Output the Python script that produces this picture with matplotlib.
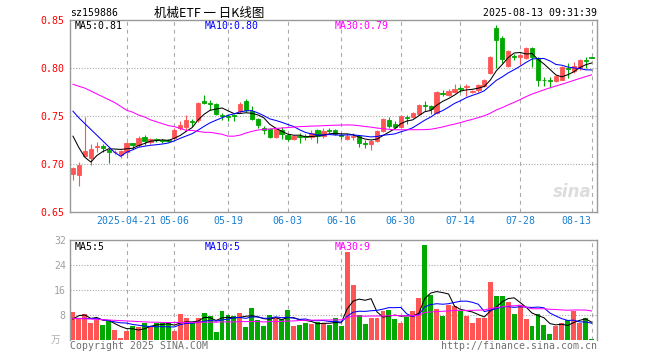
import numpy as np
import pandas as pd
import matplotlib
matplotlib.use("Agg")
import matplotlib.pyplot as plt

# daily candles 2025-04-08 .. 2025-08-13
opens = [0.690, 0.689, 0.708, 0.706, 0.718, 0.719, 0.715, 0.712, 0.709, 0.712,
         0.722, 0.720, 0.728, 0.723, 0.726, 0.725, 0.725, 0.727, 0.737, 0.739,
         0.745, 0.746, 0.766, 0.764, 0.763, 0.751, 0.750, 0.751, 0.755, 0.766,
         0.755, 0.747, 0.738, 0.736, 0.728, 0.735, 0.730, 0.726, 0.729, 0.729,
         0.728, 0.735, 0.729, 0.735, 0.735, 0.730, 0.726, 0.728, 0.729, 0.722,
         0.721, 0.724, 0.734, 0.746, 0.742, 0.739, 0.749, 0.749, 0.752, 0.761,
         0.760, 0.753, 0.774, 0.772, 0.775, 0.779, 0.780, 0.775, 0.777, 0.781,
         0.795, 0.842, 0.831, 0.802, 0.812, 0.811, 0.810, 0.821, 0.810, 0.788,
         0.787, 0.786, 0.788, 0.800, 0.797, 0.800, 0.808, 0.811]
highs = [0.697, 0.702, 0.749, 0.721, 0.723, 0.721, 0.717, 0.715, 0.715, 0.723,
         0.722, 0.729, 0.730, 0.727, 0.727, 0.726, 0.726, 0.737, 0.745, 0.751,
         0.747, 0.765, 0.772, 0.767, 0.764, 0.753, 0.752, 0.752, 0.765, 0.768,
         0.760, 0.748, 0.740, 0.737, 0.738, 0.739, 0.731, 0.730, 0.732, 0.731,
         0.735, 0.736, 0.737, 0.737, 0.736, 0.732, 0.731, 0.732, 0.730, 0.725,
         0.725, 0.735, 0.748, 0.749, 0.745, 0.751, 0.751, 0.754, 0.763, 0.766,
         0.761, 0.776, 0.777, 0.778, 0.783, 0.781, 0.783, 0.777, 0.783, 0.789,
         0.812, 0.845, 0.833, 0.819, 0.815, 0.815, 0.822, 0.822, 0.811, 0.791,
         0.791, 0.793, 0.802, 0.805, 0.806, 0.809, 0.811, 0.811]
lows = [0.683, 0.677, 0.708, 0.699, 0.713, 0.712, 0.701, 0.710, 0.706, 0.706,
        0.716, 0.718, 0.720, 0.721, 0.723, 0.722, 0.723, 0.726, 0.735, 0.735,
        0.740, 0.744, 0.762, 0.756, 0.751, 0.746, 0.745, 0.745, 0.753, 0.754,
        0.746, 0.737, 0.731, 0.727, 0.727, 0.726, 0.724, 0.725, 0.722, 0.725,
        0.726, 0.722, 0.727, 0.732, 0.730, 0.726, 0.725, 0.725, 0.718, 0.717,
        0.715, 0.723, 0.733, 0.737, 0.737, 0.737, 0.742, 0.748, 0.751, 0.755,
        0.752, 0.752, 0.771, 0.771, 0.774, 0.775, 0.771, 0.774, 0.775, 0.780,
        0.794, 0.800, 0.805, 0.801, 0.808, 0.803, 0.809, 0.801, 0.781, 0.781,
        0.780, 0.785, 0.787, 0.790, 0.795, 0.798, 0.800, 0.810]
closes = [0.696, 0.699, 0.714, 0.716, 0.719, 0.717, 0.713, 0.713, 0.714, 0.722,
          0.720, 0.727, 0.724, 0.726, 0.725, 0.724, 0.724, 0.735, 0.741, 0.746,
          0.744, 0.764, 0.764, 0.762, 0.752, 0.750, 0.749, 0.750, 0.762, 0.756,
          0.747, 0.741, 0.735, 0.728, 0.736, 0.731, 0.726, 0.729, 0.728, 0.728,
          0.732, 0.729, 0.734, 0.734, 0.731, 0.729, 0.729, 0.729, 0.722, 0.721,
          0.724, 0.734, 0.747, 0.740, 0.739, 0.750, 0.748, 0.753, 0.761, 0.760,
          0.757, 0.775, 0.773, 0.776, 0.778, 0.778, 0.781, 0.776, 0.782, 0.787,
          0.811, 0.829, 0.809, 0.818, 0.811, 0.814, 0.821, 0.811, 0.788, 0.787,
          0.786, 0.792, 0.801, 0.799, 0.802, 0.808, 0.807, 0.810]
# volume, 万手
vols = [9.1, 6.7, 8.3, 5.5, 6.4, 4.8, 6.4, 3.2, 0.8, 3.0,
        4.6, 4.3, 5.3, 4.6, 5.3, 5.3, 5.6, 2.9, 8.3, 6.9,
        5.3, 6.9, 8.8, 7.8, 2.5, 9.3, 8.0, 7.7, 8.8, 4.2,
        10.1, 6.4, 4.6, 8.0, 6.9, 6.7, 9.6, 4.6, 4.8, 5.6,
        5.1, 5.9, 5.3, 4.8, 6.9, 4.6, 28.3, 17.6, 8.0, 5.1,
        7.1, 7.1, 9.3, 9.6, 6.7, 5.5, 7.5, 9.3, 13.5, 30.4,
        14.4, 9.9, 7.7, 11.2, 10.9, 9.3, 7.8, 5.6, 7.1, 7.1,
        18.7, 14.1, 14.1, 12.3, 8.3, 11.2, 6.7, 4.6, 8.3, 4.8,
        1.9, 4.6, 5.6, 6.4, 9.4, 5.5, 6.9, 0.3]

ma5_head = [0.729, 0.717, 0.707, 0.702]
ma10_head = [0.755, 0.748, 0.742, 0.736, 0.730, 0.724, 0.718, 0.712, 0.708]
ma30_head = [0.783, 0.781, 0.779, 0.776, 0.773, 0.770, 0.767, 0.764, 0.760, 0.756,
             0.754, 0.751, 0.749, 0.746, 0.744, 0.742, 0.740, 0.739, 0.737, 0.735,
             0.735, 0.734, 0.733, 0.733, 0.732, 0.731, 0.729, 0.729, 0.730]
vma5_head = [6.7, 7.8, 8.0, 6.9]
vma10_head = [6.9, 6.9, 6.9, 6.9, 6.8, 6.5, 6.2, 5.8, 5.5]
vma30_head = [6.9, 6.85, 6.8, 6.7, 6.6, 6.5, 6.4, 6.3, 6.2, 6.1,
              6.0, 5.9, 5.8, 5.7, 5.7, 5.6, 5.6, 5.6, 5.6, 5.6,
              5.6, 5.7, 5.7, 5.7, 5.7, 5.8, 5.8, 5.8, 5.9]

tick_pos = [9, 17, 26, 36, 45, 55, 65, 75, 87]
tick_labels = ["2025-04-21", "05-06", "05-19", "06-03", "06-16",
               "06-30", "07-14", "07-28", "08-13"]
price_ticks = [0.85, 0.80, 0.75, 0.70, 0.65]
vol_ticks = [32, 24, 16, 8]

RED = "#ff5555"
GREEN = "#00a800"
FRAME = "#999999"
GRID = "#aaaaaa"
MONO = "DejaVu Sans Mono"
CJK = ["Noto Sans CJK SC", "DejaVu Sans"]
FS = 7.1

W, H = 660, 360


def ma(values, n, head):
    m = pd.Series(values).rolling(n).mean().to_numpy()
    m[:n - 1] = head
    return m


def pos(x, y):
    return x / W, 1 - y / H


o = np.array(opens)
c = np.array(closes)
x = np.arange(len(c))
cols = np.where(c >= o, RED, GREEN)

fig = plt.figure(figsize=(W / 100, H / 100), dpi=100)
ax = fig.add_axes([70 / W, 1 - 212 / H, 527 / W, 192 / H])
ax2 = fig.add_axes([70 / W, 1 - 340 / H, 527 / W, 100 / H])

for a in (ax, ax2):
    a.set_xlim(-0.5, 87.9)
    for s in a.spines.values():
        s.set_color(FRAME)
        s.set_linewidth(1)
    for t in tick_pos:
        a.axvline(t, color=GRID, lw=0.8, ls=(0, (3.5, 3.5)), zorder=0)
ax2.spines["bottom"].set_visible(False)

# price panel
ax.set_ylim(0.65, 0.85)
for yv in [0.80, 0.75, 0.70]:
    ax.axhline(yv, color=GRID, lw=0.8, ls=(0, (1, 1.5)), zorder=0)
ax.vlines(x, lows, highs, colors=cols, lw=0.8, zorder=2)
ax.bar(x, np.abs(c - o), bottom=np.minimum(o, c), width=0.72,
       color=cols, edgecolor=cols, lw=0.6, zorder=3)
ma5 = ma(closes, 5, ma5_head)
ma10 = ma(closes, 10, ma10_head)
ma30 = ma(closes, 30, ma30_head)
ax.plot(x, ma5, color="black", lw=0.75, zorder=4)
ax.plot(x, ma10, color="#0000ff", lw=0.75, zorder=4)
ax.plot(x, ma30, color="#ff00ff", lw=0.75, zorder=4)

ax.set_yticks(price_ticks)
ax.set_yticklabels([f"{v:.2f}" for v in price_ticks], family=MONO, fontsize=FS, color="#ff0000")
ax.tick_params(axis="y", length=0, pad=4)
ax.set_xticks(tick_pos)
ax.set_xticklabels(tick_labels, family=MONO, fontsize=FS, color="#1a7fd0")
ax.tick_params(axis="x", length=0, pad=3.2)
ax.get_xticklabels()[-1].set_ha("right")

# volume panel
ax2.set_ylim(0, 32)
for yv in [24, 16, 8]:
    ax2.axhline(yv, color=GRID, lw=0.8, ls=(0, (1, 1.5)), zorder=0)
ax2.bar(x, vols, width=0.82, color=cols, lw=0, zorder=2)
vma5 = ma(vols, 5, vma5_head)
vma10 = ma(vols, 10, vma10_head)
vma30 = ma(vols, 30, vma30_head)
ax2.plot(x, vma5, color="black", lw=0.75, zorder=4)
ax2.plot(x, vma10, color="#0000ff", lw=0.75, zorder=4)
ax2.plot(x, vma30, color="#ff00ff", lw=0.75, zorder=4)
ax2.set_xticks([])
ax2.set_yticks(vol_ticks)
ax2.set_yticklabels([str(v) for v in vol_ticks], family=MONO, fontsize=FS, color="#a0a0a0")
ax2.tick_params(axis="y", length=0, pad=3)

# header and labels
fig.text(*pos(70, 13), "sz159886", family=MONO, fontsize=FS, va="center")
fig.text(*pos(209, 13), "机械ETF 一 日K线图", family=CJK, fontsize=9, ha="center", va="center")
fig.text(*pos(597, 13), "2025-08-13 09:31:39", family=MONO, fontsize=FS, ha="right", va="center")

fig.text(*pos(75, 26), f"MA5:{ma5[-1]:.2f}", family=MONO, fontsize=FS, va="center", color="black")
fig.text(*pos(205, 26), f"MA10:{ma10[-1]:.2f}", family=MONO, fontsize=FS, va="center", color="#0000ff")
fig.text(*pos(335, 26), f"MA30:{ma30[-1]:.2f}", family=MONO, fontsize=FS, va="center", color="#ff00ff")

fig.text(*pos(75, 247), f"MA5:{int(vma5[-1])}", family=MONO, fontsize=FS, va="center", color="black")
fig.text(*pos(205, 247), f"MA10:{int(vma10[-1])}", family=MONO, fontsize=FS, va="center", color="#0000ff")
fig.text(*pos(335, 247), f"MA30:{int(vma30[-1])}", family=MONO, fontsize=FS, va="center", color="#ff00ff")

fig.text(*pos(56, 340), "万", family=CJK, fontsize=7, color="#b0b0b0", ha="center", va="center")
fig.text(*pos(70, 346), "Copyright 2025 SINA.COM", family=MONO, fontsize=FS, color="#707070", va="center")
fig.text(*pos(597, 346), "http://finance.sina.com.cn", family=MONO, fontsize=FS, color="#707070",
         ha="right", va="center")
fig.text(*pos(572, 192), "sina", fontsize=12, style="italic", weight="bold", color="#dddddd",
         ha="center", va="center")

fig.savefig("out.png", dpi=100)
